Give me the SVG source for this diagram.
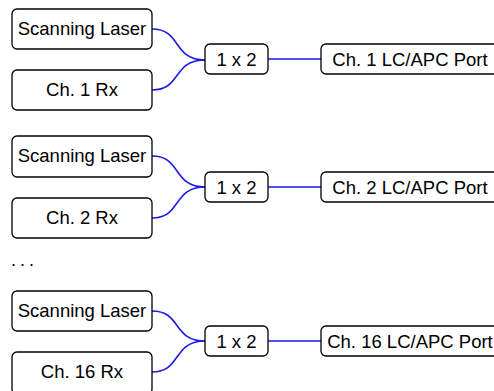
<svg xmlns="http://www.w3.org/2000/svg" width="494" height="391" viewBox="0 0 494 391">
<style>
.box{fill:#fff;stroke:#000;stroke-width:1.3}
.t{font-family:"Liberation Sans",Arial,sans-serif;font-size:18.5px;fill:#000;text-anchor:middle}
.c{fill:none;stroke:#1a1ae6;stroke-width:1.6}
</style>
<rect width="494" height="391" fill="#fff"/>
<g id="connectors">
<path class="c" d="M152,29 C182,29 172,60 205,60"/>
<path class="c" d="M152,90 C182,90 172,60 205,60"/>
<path class="c" d="M268,59 H321"/>
<path class="c" d="M152,156 C182,156 172,187 205,187"/>
<path class="c" d="M152,218 C182,218 172,187 205,187"/>
<path class="c" d="M268,187 H321"/>
<path class="c" d="M152,311 C182,311 172,341 205,341"/>
<path class="c" d="M152,372 C182,372 172,341 205,341"/>
<path class="c" d="M268,341 H321"/>
</g>
<g id="laser1"><rect class="box" x="12" y="9" width="140" height="40" rx="5"/><text class="t" x="82" y="35">Scanning Laser</text></g>
<g id="rx1"><rect class="box" x="12" y="70" width="140" height="40" rx="5"/><text class="t" x="82" y="96">Ch. 1 Rx</text></g>
<g id="split1"><rect class="box" x="205" y="44" width="63" height="30" rx="5"/><text class="t" x="236.5" y="65.5">1 x 2</text></g>
<g id="port1"><rect class="box" x="321" y="44" width="200" height="30" rx="5"/><text class="t" x="410" y="65.5">Ch. 1 LC/APC Port</text></g>
<g id="laser2"><rect class="box" x="12" y="136" width="140" height="41" rx="5"/><text class="t" x="82" y="162">Scanning Laser</text></g>
<g id="rx2"><rect class="box" x="12" y="198" width="140" height="40" rx="5"/><text class="t" x="82" y="224">Ch. 2 Rx</text></g>
<g id="split2"><rect class="box" x="205" y="172" width="63" height="30" rx="5"/><text class="t" x="236.5" y="193.5">1 x 2</text></g>
<g id="port2"><rect class="box" x="321" y="172" width="200" height="30" rx="5"/><text class="t" x="410" y="193.5">Ch. 2 LC/APC Port</text></g>
<g id="ellipsis"><text x="11" y="266" font-family="Liberation Sans,Arial,sans-serif" font-size="18" letter-spacing="4">...</text></g>
<g id="laser3"><rect class="box" x="12" y="291" width="140" height="40" rx="5"/><text class="t" x="82" y="317">Scanning Laser</text></g>
<g id="rx3"><rect class="box" x="12" y="352" width="140" height="42" rx="5"/><text class="t" x="82" y="378">Ch. 16 Rx</text></g>
<g id="split3"><rect class="box" x="205" y="326" width="63" height="30" rx="5"/><text class="t" x="236.5" y="347.5">1 x 2</text></g>
<g id="port3"><rect class="box" x="321" y="326" width="200" height="30" rx="5"/><text class="t" x="410" y="347.5">Ch. 16 LC/APC Port</text></g>
</svg>
